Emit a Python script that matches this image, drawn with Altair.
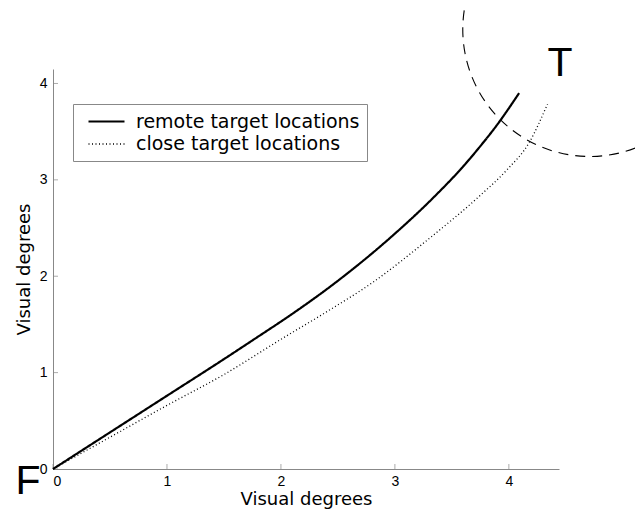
import altair as alt
import pandas as pd

remote_x = [0, 0.5, 1.0, 1.5, 1.77, 2.1, 2.43, 2.96, 3.35, 3.6, 3.75, 3.89, 4.09]
remote_y = [0, 0.38, 0.76, 1.14, 1.35, 1.61, 1.89, 2.40, 2.83, 3.14, 3.35, 3.56, 3.90]
close_x = [0, 0.5, 1.0, 1.5, 2.02, 2.4, 2.81, 3.31, 3.75, 3.98, 4.18, 4.34]
close_y = [0, 0.33, 0.66, 0.98, 1.36, 1.63, 1.94, 2.40, 2.84, 3.10, 3.39, 3.79]
series_names = ["remote target locations", "close target locations"]
tick_values = [0, 1, 2, 3, 4]

target_center = {"x": [4.71], "y": [4.56]}
labels = {"text": ["F", "T"], "x": [-0.22, 4.45], "y": [-0.13, 4.2]}

FONT = "Liberation Sans"
WIDE = "DejaVu Sans"

rows = []
for i, (x, y) in enumerate(zip(remote_x, remote_y)):
    rows.append({"x": x, "y": y, "series": series_names[0], "i": i})
for i, (x, y) in enumerate(zip(close_x, close_y)):
    rows.append({"x": x, "y": y, "series": series_names[1], "i": i})
df = pd.DataFrame(rows)

xs = alt.Scale(domain=[0, 4.44], nice=False, zero=False)
ys = alt.Scale(domain=[0, 4.15], nice=False, zero=False)

lines = alt.Chart(df).mark_line(color="black", interpolate="monotone").encode(
    x=alt.X("x:Q", scale=xs, title="Visual degrees",
            axis=alt.Axis(values=tick_values, format="d", grid=False, ticks=False,
                          domainColor="#888", labelFontSize=14, labelPadding=5,
                          labelFont=FONT, labelColor="black", titleFont=WIDE,
                          titleFontSize=18, titleFontWeight="normal", titlePadding=2)),
    y=alt.Y("y:Q", scale=ys, title="Visual degrees",
            axis=alt.Axis(values=tick_values, format="d", grid=False, ticks=False,
                          domainColor="#888", labelFontSize=14, labelPadding=6,
                          labelFont=FONT, labelColor="black", titleFont=WIDE,
                          titleFontSize=18, titleFontWeight="normal", titlePadding=6)),
    strokeDash=alt.StrokeDash("series:N",
                              scale=alt.Scale(domain=series_names, range=[[1, 0], [1, 2.5]]),
                              legend=alt.Legend(title=None)),
    strokeWidth=alt.StrokeWidth("series:N",
                                scale=alt.Scale(domain=series_names, range=[2.2, 1.3]),
                                legend=None),
    order="i:Q",
)

xt = alt.Chart(pd.DataFrame({"v": tick_values})).mark_tick(
    color="#888", size=5, thickness=1, yOffset=-2.5, orient="vertical"
).encode(x=alt.X("v:Q", scale=xs), y=alt.datum(0, scale=ys))

yt = alt.Chart(pd.DataFrame({"v": tick_values})).mark_tick(
    color="#888", size=5, thickness=1, xOffset=2.5, orient="horizontal"
).encode(y=alt.Y("v:Q", scale=ys), x=alt.datum(0, scale=xs))

circle = alt.Chart(pd.DataFrame(target_center)).mark_point(
    shape="circle", size=64516, filled=False, color="black",
    strokeWidth=1.1, strokeDash=[10, 7], opacity=1
).encode(x=alt.X("x:Q", scale=xs), y=alt.Y("y:Q", scale=ys))

txt = alt.Chart(pd.DataFrame(labels)).mark_text(
    font=FONT, fontSize=41, color="black", align="center", baseline="middle"
).encode(x=alt.X("x:Q", scale=xs), y=alt.Y("y:Q", scale=ys), text="text:N")

chart = alt.layer(circle, xt, yt, lines, txt).properties(
    width=506, height=400,
    autosize=alt.AutoSizeParams(type="none"),
    padding={"left": 45, "top": 61, "right": 76, "bottom": 43},
).configure_view(stroke=None).configure_legend(
    orient="none", legendX=20, legendY=35, strokeColor="#888", fillColor="white",
    padding=7, labelFontSize=19, labelFont=WIDE, labelColor="black", labelLimit=0,
    symbolType="M-2,0H2", symbolSize=324, symbolStrokeColor="black",
    symbolStrokeWidth=2, symbolOffset=16, labelOffset=19, rowPadding=2, cornerRadius=0
)

chart.save("out.html", embed_options={"renderer": "svg", "actions": False})
